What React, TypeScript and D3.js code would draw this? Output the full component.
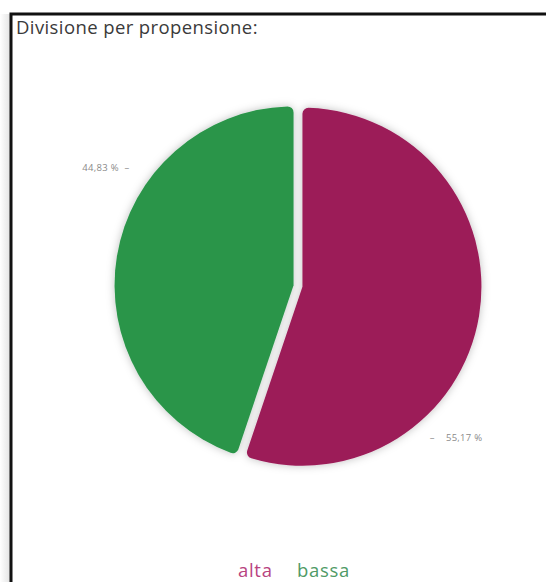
import React from "react";
import * as d3 from "d3";

const categories = ["alta", "bassa"];
const values = [55.17, 44.83];
const labels = ["55,17 %", "44,83 %"];
const sliceColors = ["#9c1d59", "#2a954a"];
const legendColors = ["#b8437f", "#4f9a66"];

const W = 546;
const H = 582;
const FONT = "'Open Sans', Lato, sans-serif";

export default function App() {
  const cx = 298;
  const cy = 286;
  const R = 179;
  const explode = 4.5;
  const pie = d3.pie<number>().sort(null).value((d) => d)(values);
  const arc = d3.arc<d3.PieArcDatum<number>>().innerRadius(0).outerRadius(R).cornerRadius(6);
  const labelFrac = [0.7, 0.66];
  const labelGap = [22, 27];

  return (
    <svg width={W} height={H} style={{ position: "absolute", left: 0, top: 0, background: "#fff" }}>
      <defs>
        <filter id="sh" x="-20%" y="-20%" width="140%" height="140%">
          <feDropShadow dx="0" dy="0" stdDeviation="4" floodColor="#000" floodOpacity="0.25" />
        </filter>
        <linearGradient id="lshadow" x1="0" x2="1" y1="0" y2="0">
          <stop offset="0" stopColor="#fff" />
          <stop offset="1" stopColor="#e4e4e4" />
        </linearGradient>
      </defs>
      <rect x={0} y={14} width={10} height={H} fill="url(#lshadow)" />
      <rect x={11} y={14} width={W + 20} height={H + 20} fill="#fff" stroke="#111" strokeWidth={3} />
      <text x={16} y={34} fontFamily={FONT} fontSize={18.5} letterSpacing={0.4} fill="#3a3a3a">
        Divisione per propensione:
      </text>
      <g filter="url(#sh)">
        {pie.map((p, i) => {
          const mid = (p.startAngle + p.endAngle) / 2;
          const ox = cx + explode * Math.sin(mid);
          const oy = cy - explode * Math.cos(mid);
          return (
            <path key={categories[i]} d={arc(p) || ""} transform={`translate(${ox},${oy})`} fill={sliceColors[i]} />
          );
        })}
      </g>
      {pie.map((p, i) => {
        const a = p.startAngle + (p.endAngle - p.startAngle) * labelFrac[i];
        const r = R + labelGap[i];
        const x = cx + r * Math.sin(a);
        const y = cy - r * Math.cos(a);
        const right = Math.sin(a) > 0;
        return (
          <text
            key={"l" + i}
            x={x}
            y={y}
            dy="0.35em"
            textAnchor={right ? "start" : "end"}
            fontFamily={FONT}
            fontSize={9.5}
            letterSpacing={0.3}
            fill="#8a8a8a"
            style={{ whiteSpace: "pre" }}
          >
            {right ? `–    ${labels[i]}` : `${labels[i]}  –`}
          </text>
        );
      })}
      <g fontFamily={FONT} fontSize={18.5} letterSpacing={0.7}>
        {categories.map((c, i) => (
          <text key={c} x={i === 0 ? 238 : 297} y={577} fill={legendColors[i]}>
            {c}
          </text>
        ))}
      </g>
    </svg>
  );
}
